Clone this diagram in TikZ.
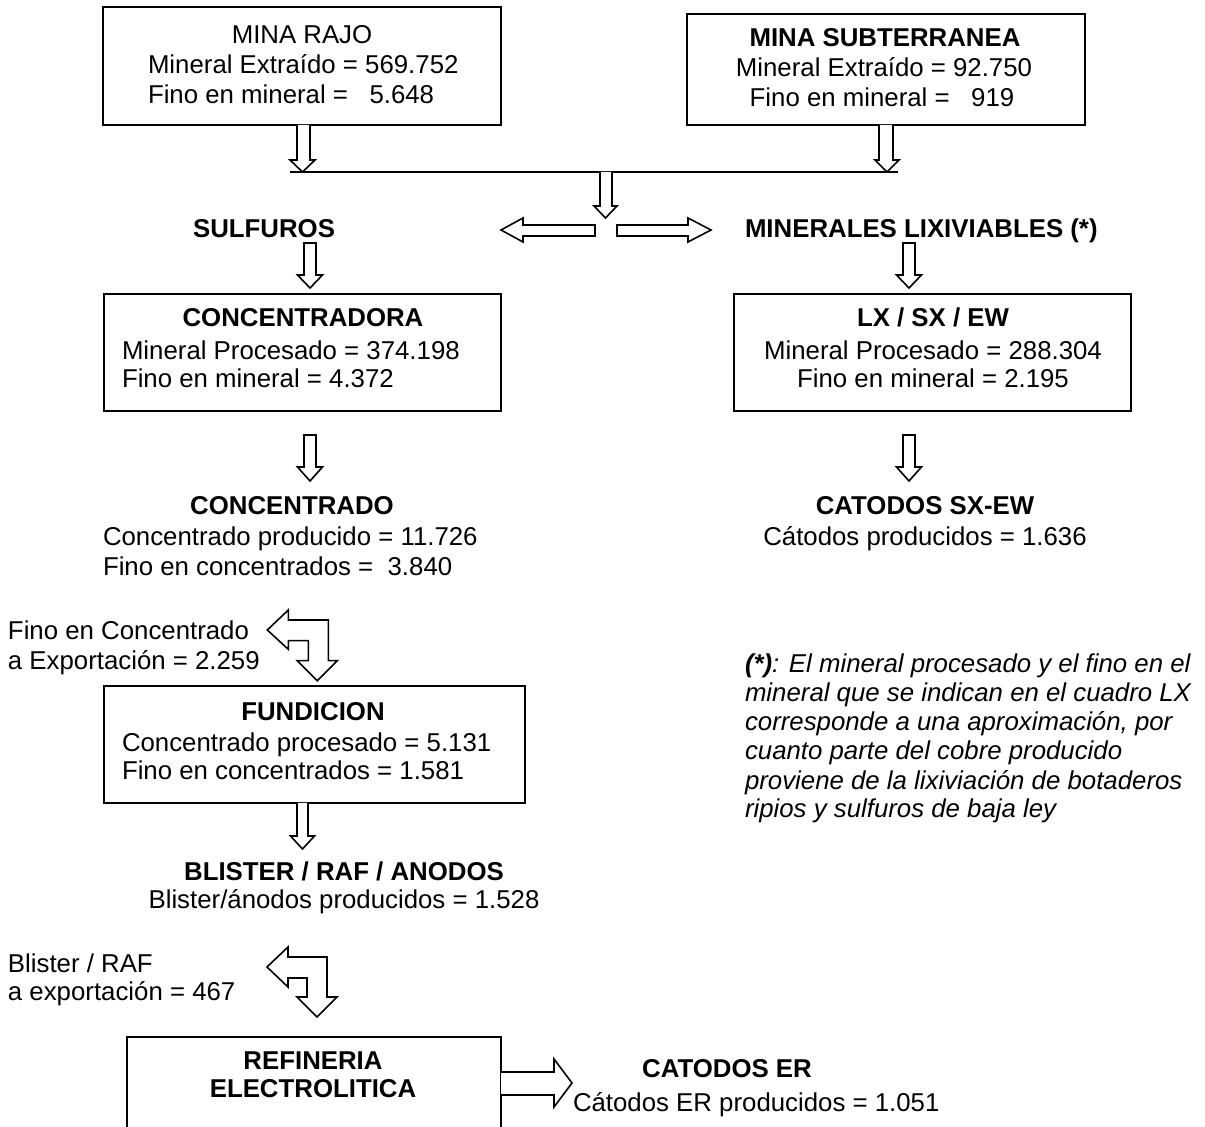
\documentclass[tikz,border=0pt]{standalone}
\usepackage{fontspec}
\setmainfont{Liberation Sans}
\begin{document}
\begin{tikzpicture}[x=0.5pt,y=-0.5pt,
  every node/.style={font=\fontsize{12.9pt}{14.75pt}\selectfont, inner sep=0pt, outer sep=0pt},
  box/.style={draw, line width=1pt, rectangle},
  blk/.style={draw, line width=0.8pt, fill=white, line join=miter},
  ttl/.style={font=\fontsize{12.9pt}{14.75pt}\selectfont\bfseries, anchor=mid},
  lft/.style={anchor=mid west},
  ctr/.style={anchor=mid},
  note/.style={anchor=mid west, font=\fontsize{12.9pt}{14.75pt}\selectfont\itshape}
]
\useasboundingbox (0,0) rectangle (1205,1127);
\begin{scope}
\clip (0,0) rectangle (1205,1127);
% boxes
\node[box, minimum width=199pt, minimum height=59pt] (rajo) at (302,66) {};
\node[box, minimum width=199pt, minimum height=55.5pt] (sub) at (886,69.5) {};
\node[box, minimum width=198.5pt, minimum height=58.5pt] (conc) at (302.5,352.5) {};
\node[box, minimum width=198.5pt, minimum height=58.5pt] (lx) at (932.5,352.5) {};
\node[box, minimum width=210.5pt, minimum height=58.5pt] (fund) at (314.5,744.5) {};
\node[box, minimum width=187pt, minimum height=61.5pt] (ref) at (314,1098.5) {};

% box texts
\node[ctr] (t1a) at (302,38) {MINA RAJO};
\node[lft] (t1b) at (148,68) {Mineral Extraído = 569.752};
\node[lft] (t1c) at (148,98) {Fino en mineral =\ \ \ 5.648};

\node[ttl] (t2a) at (885,41) {MINA SUBTERRANEA};
\node[ctr] (t2b) at (884,71) {Mineral Extraído = 92.750};
\node[ctr] (t2c) at (882,101) {Fino en mineral =\ \ \ 919};

\node[ttl] (t3a) at (303,321) {CONCENTRADORA};
\node[lft] (t3b) at (122,354) {Mineral Procesado = 374.198};
\node[lft] (t3c) at (122,382) {Fino en mineral = 4.372};

\node[ttl] (t4a) at (933,321) {LX / SX / EW};
\node[ctr] (t4b) at (933,354) {Mineral Procesado = 288.304};
\node[ctr] (t4c) at (933,382) {Fino en mineral = 2.195};

\node[ttl] (t5a) at (313,715) {FUNDICION};
\node[lft] (t5b) at (122,746) {Concentrado procesado = 5.131};
\node[lft] (t5c) at (122,774) {Fino en concentrados = 1.581};

\node[ttl] (t6a) at (313,1064) {REFINERIA};
\node[ttl] (t6b) at (313,1092) {ELECTROLITICA};

% free texts
\node[ttl, anchor=mid east] (sulf) at (335,232) {SULFUROS};
\node[ttl, anchor=mid west] (lixi) at (745,232) {MINERALES LIXIVIABLES (*)};

\node[ttl] (cona) at (292,509) {CONCENTRADO};
\node[lft] (conb) at (103,540) {Concentrado producido = 11.726};
\node[lft] (conc2) at (103,570) {Fino en concentrados =\ \ 3.840};

\node[ttl] (cata) at (925,509) {CATODOS SX-EW};
\node[ctr] (catb) at (925,540) {Cátodos producidos = 1.636};

\node[lft] (expa) at (8,634) {Fino en Concentrado};
\node[lft] (expb) at (8,664) {a Exportación = 2.259};

\node[ttl] (blia) at (344,875) {BLISTER / RAF / ANODOS};
\node[ctr] (blib) at (344,903) {Blister/ánodos producidos = 1.528};

\node[lft] (exra) at (8,967) {Blister / RAF};
\node[lft] (exrb) at (8,995) {a exportación = 467};

\node[ttl] (era) at (727,1072) {CATODOS ER};
\node[lft] (erb) at (573,1106) {Cátodos ER producidos = 1.051};

\node[note] (n1) at (745,667) {{\bfseries(*)}: El mineral procesado y el fino en el};
\node[note] (n2) at (745,696) {mineral que se indican en el cuadro LX};
\node[note] (n3) at (745,725) {corresponde a una aproximación, por};
\node[note] (n4) at (745,754) {cuanto parte del cobre producido};
\node[note] (n5) at (745,784) {proviene de la lixiviación de botaderos};
\node[note] (n6) at (745,812) {ripios y sulfuros de baja ley};

% collector line
\coordinate (cl) at (290,172);
\coordinate (cr) at (898,172);
\draw[line width=0.8pt] (cl) -- (cr);

% block arrows
\draw[blk] (297,125) -- (297,160) -- (290,160) -- (302.5,172) -- (315,160) -- (310,160) -- (310,125);
\draw[blk] (879,125) -- (879,160) -- (875,160) -- (887,172) -- (899,160) -- (893,160) -- (893,125);
\draw[blk] (600,172) -- (600,206) -- (594,206) -- (605.5,218) -- (617,206) -- (612,206) -- (612,172);
\draw[blk] (595,225) -- (523,225) -- (523,218) -- (501,230) -- (523,242) -- (523,236) -- (595,236) -- cycle;
\draw[blk] (617,225) -- (688,225) -- (688,218) -- (711,230) -- (688,242) -- (688,236) -- (617,236) -- cycle;

\draw[blk] (304,243) -- (304,275) -- (297.5,275) -- (310,288) -- (322.5,275) -- (316,275) -- (316,243) -- cycle;
\draw[blk] (903,243) -- (903,275) -- (896.5,275) -- (909,288) -- (921.5,275) -- (915,275) -- (915,243) -- cycle;

\draw[blk] (304,435) -- (304,467) -- (297.5,467) -- (310,481) -- (322.5,467) -- (316,467) -- (316,435) -- cycle;
\draw[blk] (903,435) -- (903,467) -- (896.5,467) -- (909,481) -- (921.5,467) -- (915,467) -- (915,435) -- cycle;

\draw[blk] (267.3,630) -- (288.3,610) -- (288.3,620) -- (328.3,620) -- (328.3,660.7) -- (337.3,660.7) -- (317.3,680.7) -- (297.3,660.7) -- (308.3,660.7) -- (308.3,640.7) -- (288.3,640.7) -- (288.3,649.3) -- cycle;

\draw[blk] (297,803) -- (297,836) -- (290.5,836) -- (302.5,849) -- (314.5,836) -- (308,836) -- (308,803);

\draw[blk] (267,967) -- (288,947) -- (288,957) -- (327,957) -- (327,997) -- (337,997) -- (317,1017) -- (297,997) -- (307,997) -- (307,978) -- (288,978) -- (288,987) -- cycle;

\draw[blk] (ref.east |- 0,1072) -- (554,1072) -- (554,1059) -- (572,1083) -- (554,1107) -- (554,1095) -- (ref.east |- 0,1095);
\end{scope}
\end{tikzpicture}
\end{document}
